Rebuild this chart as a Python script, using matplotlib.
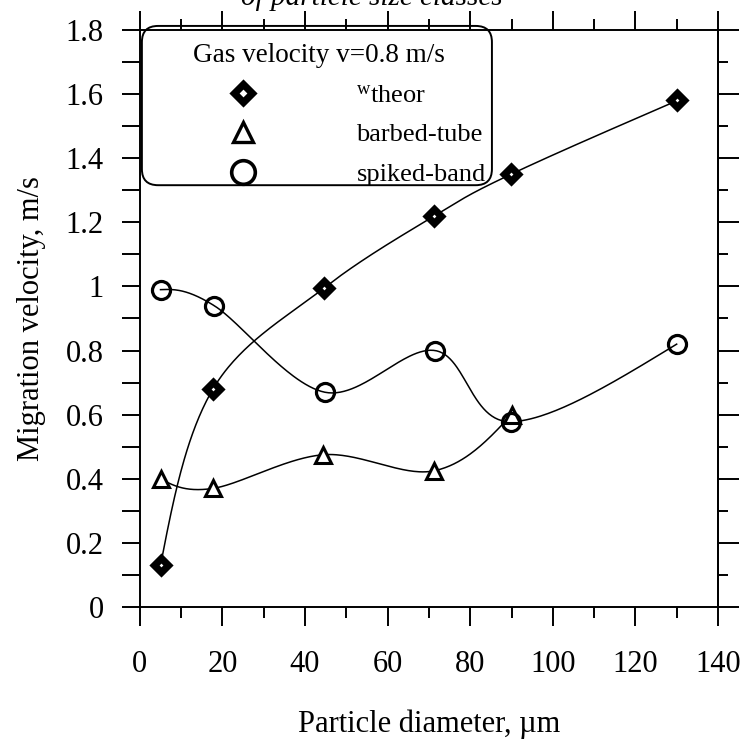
import matplotlib.pyplot as plt
import numpy as np
from matplotlib.lines import Line2D
from matplotlib.patches import FancyBboxPatch
from matplotlib.ticker import MultipleLocator, FuncFormatter

plt.rcParams['font.family'] = ['Liberation Serif', 'DejaVu Serif']
plt.rcParams['mathtext.fontset'] = 'stix'

# particle diameter (um) and migration velocity (m/s) for each series
d_theor = [5, 17.7, 44.6, 71.3, 89.9, 130.2]
w_theor = [0.13, 0.68, 0.995, 1.22, 1.35, 1.58]

d_tube = [5, 17.7, 44.4, 71.3, 90]
w_tube = [0.40, 0.37, 0.475, 0.425, 0.60]

d_band = [5, 18, 44.8, 71.5, 89.9, 130]
w_band = [0.99, 0.94, 0.67, 0.80, 0.578, 0.82]

XMAX, YMAX = 140, 1.8


def spline_curve(xs, ys, n=60):
    # Catmull-Rom style cubic through the points, natural end tangents
    p = np.column_stack([np.asarray(xs) / XMAX, np.asarray(ys) / YMAX])
    T = np.zeros_like(p)
    T[1:-1] = (p[2:] - p[:-2]) / 2
    T[0] = (3 * (p[1] - p[0]) - T[1]) / 2
    T[-1] = (3 * (p[-1] - p[-2]) - T[-2]) / 2
    t = np.linspace(0, 1, n)[:, None]
    h00 = 2 * t**3 - 3 * t**2 + 1
    h10 = t**3 - 2 * t**2 + t
    h01 = -2 * t**3 + 3 * t**2
    h11 = t**3 - t**2
    segs = [h00 * p[i] + h10 * T[i] + h01 * p[i + 1] + h11 * T[i + 1]
            for i in range(len(p) - 1)]
    c = np.vstack(segs)
    return c[:, 0] * XMAX, c[:, 1] * YMAX


fig = plt.figure(figsize=(7.44, 7.40), dpi=100)
ax = fig.add_axes([0.188, 0.1797, 0.777, 0.7798])

#curves
for xs, ys in [(d_theor, w_theor), (d_tube, w_tube), (d_band, w_band)]:
    cx, cy = spline_curve(xs, ys)
    ax.plot(cx, cy, color='k', lw=1.1, zorder=2)

#markers
ax.plot(d_theor, w_theor, ls='none', marker='D', ms=7, mfc='w', mec='k', mew=5.2, zorder=3)
ax.plot(d_tube, w_tube, ls='none', marker='^', ms=11, mfc='w', mec='k', mew=2.2, zorder=3)
ax.plot(d_band, w_band, ls='none', marker='o', ms=13, mfc='none', mec='k', mew=2.3, zorder=3)

ax.set_xlim(0, XMAX)
ax.set_ylim(0, YMAX)
ax.xaxis.set_major_locator(MultipleLocator(20))
ax.xaxis.set_minor_locator(MultipleLocator(10))
ax.yaxis.set_major_locator(MultipleLocator(0.2))
ax.yaxis.set_minor_locator(MultipleLocator(0.1))
ax.yaxis.set_major_formatter(FuncFormatter(lambda v, pos: f'{round(v, 2):g}'))

for sp in ax.spines.values():
    sp.set_linewidth(1.4)

ax.tick_params(which='both', direction='out', top=True, right=False, width=1.4,
               labelsize=22)
ax.tick_params(axis='x', which='major', length=14, pad=17)
ax.tick_params(axis='x', which='minor', length=8)
ax.tick_params(axis='y', which='both', length=13, pad=13)

#right-hand ticks are shorter for the minor ones
sec = ax.secondary_yaxis('right')
sec.yaxis.set_major_locator(MultipleLocator(0.2))
sec.yaxis.set_minor_locator(MultipleLocator(0.1))
sec.tick_params(which='both', direction='out', width=1.4, labelright=False)
sec.tick_params(which='major', length=15)
sec.tick_params(which='minor', length=7.5)
sec.spines['right'].set_linewidth(1.4)

ax.set_xlabel('Particle diameter, µm', fontsize=22, labelpad=22)
ax.set_ylabel('Migration velocity, m/s', fontsize=22, labelpad=14)

fig.text(0.5, 0.993, 'of particle size classes', style='italic', fontsize=21,
         ha='center', va='baseline')

#legend box with rounded corners
box = FancyBboxPatch((0.0035, 0.731), 0.6055, 0.276,
                     boxstyle='round,pad=0,rounding_size=0.028',
                     transform=ax.transAxes, fc='none', ec='k', lw=1.4,
                     clip_on=False, zorder=4)
ax.add_patch(box)

handles = [
    Line2D([], [], ls='none', marker='D', ms=9.5, mfc='w', mec='k', mew=5.2),
    Line2D([], [], ls='none', marker='^', ms=14, mfc='w', mec='k', mew=2.4),
    Line2D([], [], ls='none', marker='o', ms=17, mfc='none', mec='k', mew=2.6),
]
labels = [r'$\mathregular{^{w}}$theor', 'barbed-tube', 'spiked-band']
leg = ax.legend(handles, labels, title='Gas velocity v=0.8 m/s', loc='upper left',
                bbox_to_anchor=(0.0035, 0.996), borderaxespad=0, frameon=False,
                fontsize=19, title_fontsize=19.5, handlelength=6.9, handletextpad=0.83,
                borderpad=0.4, labelspacing=0.6, numpoints=1)

fig.savefig('out.png', dpi=100)
